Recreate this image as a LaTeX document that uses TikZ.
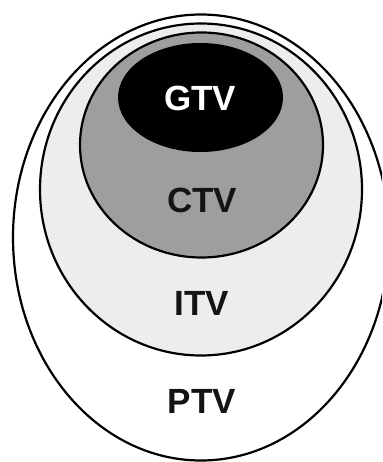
\documentclass[tikz,border=0pt]{standalone}
\usepackage{fontspec}
\setmainfont{Liberation Sans}
\begin{document}
\begin{tikzpicture}[x=1pt,y=-1pt,
  outline/.style={draw=black,line width=2.2pt},
  lbl/.style={font=\bfseries\fontsize{35}{35}\selectfont,inner sep=0pt,text=black!92},
  lblw/.style={lbl,text=white}]
\useasboundingbox (0,0) rectangle (382,462);
\clip (0,0) rectangle (382,462);
\fill[white] (0,0) rectangle (382,462);
% PTV
\draw[outline,fill=white] (201,237.5) ellipse [x radius=188,y radius=223];
% ITV
\draw[outline,fill=black!7] (201,189.5) ellipse [x radius=161,y radius=166];
% CTV
\draw[outline,fill=black!38] (201.5,145) ellipse [x radius=121.5,y radius=112.5];
% GTV
\fill[black] (200.5,97.5) ellipse [x radius=82.5,y radius=54.5];
\node[lblw] (gtv) at (200,98) {GTV};
\node[lbl] (ctv) at (202,200) {CTV};
\node[lbl] (itv) at (202,303) {ITV};
\node[lbl] (ptv) at (202,401) {PTV};
\end{tikzpicture}
\end{document}
